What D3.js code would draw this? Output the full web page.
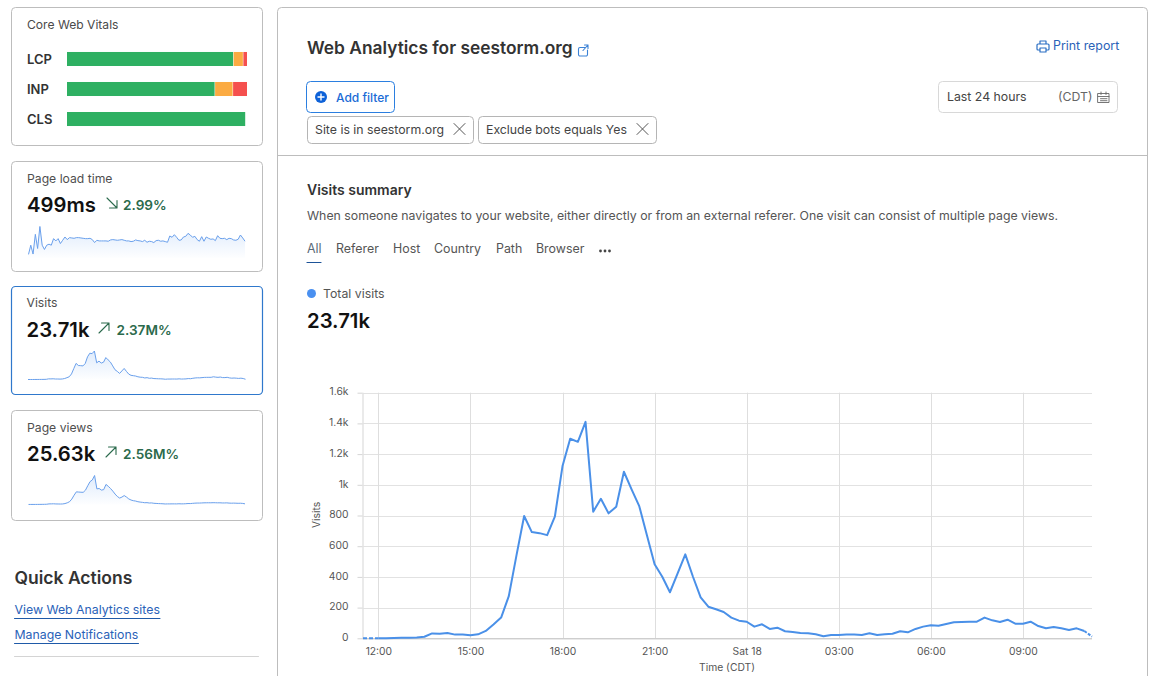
<!DOCTYPE html>
<html><head><meta charset="utf-8">
<script src="https://cdn.jsdelivr.net/npm/d3@7"></script>
<style>html,body{margin:0;padding:0;background:#fff;overflow:hidden}svg{display:block;font-family:Inter,"Noto Sans",sans-serif}</style>
</head><body><svg id="c" width="1160" height="676"></svg>
<script>
// ---- data ----
const visits=[0,0,0,1,2,3,4,6,10,32,30,35,24,24,20,26,48,90,135,275,540,797,692,685,672,792,1122,1300,1280,1410,825,909,814,857,1085,970,861,672,482,401,300,423,547,401,267,206,189,171,135,115,108,76,91,61,69,46,41,35,33,26,13,22,22,24,24,22,33,22,26,30,46,39,61,76,85,82,93,104,106,108,108,135,117,106,121,95,95,108,80,65,74,65,54,65,48,11];
const pageViews=[3,3,4,4,5,6,8,10,14,32,34,38,30,28,26,30,50,90,150,290,500,680,670,660,655,770,1010,1230,1320,1560,840,860,775,800,1080,980,860,720,560,430,345,400,480,400,300,240,205,185,150,130,115,95,100,80,85,65,58,50,45,38,28,32,32,34,34,32,40,34,36,42,52,50,62,72,78,78,84,90,92,94,92,98,95,90,92,84,84,88,76,70,74,70,64,68,58,36];
const loadTime=[97,343,106,634,255,845,343,229,343,370,343,519,458,519,387,475,563,493,546,537,528,546,546,537,528,519,519,528,493,414,475,458,458,458,458,449,484,493,484,475,484,493,475,458,458,440,449,484,466,458,440,475,422,449,440,414,466,475,449,458,440,422,590,555,625,555,475,484,563,581,660,616,555,581,493,449,572,449,563,528,502,511,466,598,528,519,528,493,528,519,484,475,502,616,537,449];
const lcp=[92.3,5.4,2.3], inp=[82,10,8], cls=[99,0,0];
const vitalNames=["LCP","INP","CLS"];
const yTicks=[0,200,400,600,800,1000,1200,1400,1600];
const xTickLabels=["12:00","15:00","18:00","21:00","Sat 18","03:00","06:00","09:00"];
const tabs=["All","Referer","Host","Country","Path","Browser"];
const startTime=Date.UTC(2024,4,17,11,30), stepMs=15*60*1000;

const svg=d3.select("#c");
const ink="#3a3a3a",blue="#1f62c4",green="#2b6a4c";
function text(s,x,y,size,opt={}){return svg.append("text").attr("x",x).attr("y",y).attr("font-size",size).attr("fill",opt.fill||ink).attr("font-weight",opt.w||400).attr("text-anchor",opt.a||"start").text(s);}
function box(x0,y0,x1,y1,stroke,r=4,sw=1){svg.append("rect").attr("x",x0).attr("y",y0).attr("width",x1-x0).attr("height",y1-y0).attr("rx",r).attr("fill","#fff").attr("stroke",stroke).attr("stroke-width",sw);}
function path(d,stroke,sw=1,fill="none"){return svg.append("path").attr("d",d).attr("stroke",stroke).attr("stroke-width",sw).attr("fill",fill).attr("stroke-linecap","round").attr("stroke-linejoin","round");}

// ---- left cards ----
box(11.5,7.5,262.5,145.5,"#bdbdbd");
box(11.5,161.5,262.5,271.5,"#bdbdbd");
box(11.5,286.5,262.5,394.5,"#2f78cc",4,1.2);
box(11.5,410.5,262.5,520.5,"#bdbdbd");
text("Core Web Vitals",27,29,12.1,{fill:"#4a4a4a"});
const vx=d3.scaleLinear().domain([0,100]).range([67,247]);
const vy=d3.scaleBand().domain(vitalNames).range([44,134]).paddingInner(0.533).paddingOuter(0.266);
const vColors=["#2eb062","#fbab42","#f5504e"];
[lcp,inp,cls].forEach((arr,k)=>{
  const nm=vitalNames[k];
  text(nm,27,vy(nm)+12,13,{w:600,fill:"#333"});
  let acc=0;
  arr.forEach((v,j)=>{ if(v>0) svg.append("rect").attr("x",vx(acc)+(j?0.5:0)).attr("y",vy(nm)).attr("width",vx(acc+v)-vx(acc)-(j?0.5:0)).attr("height",vy.bandwidth()).attr("fill",vColors[j]); acc+=v;});
});

function card(title,tx,ty,val,vy0,arrowX,up,pct,pctX){
  text(title,tx,ty,12.2,{fill:"#4f4f4f"});
  text(val,tx,vy0,20.3,{w:600,fill:"#111"});
  const ay=vy0-14, s=10;
  if(up) path(`M${arrowX} ${ay+s}L${arrowX+s} ${ay}M${arrowX+2.5} ${ay}H${arrowX+s}V${ay+7.5}`,green,1.1);
  else path(`M${arrowX} ${ay}L${arrowX+s} ${ay+s}M${arrowX+s} ${ay+2.5}V${ay+s}H${arrowX+2.5}`,green,1.1);
  text(pct,pctX,vy0-2,13.6,{w:600,fill:green});
}
card("Page load time",27,183,"499ms",212,107,false,"2.99%",123);
card("Visits",26.5,307,"23.71k",337,99,true,"2.37M%",116.5);
card("Page views",27,432,"25.63k",461,106,true,"2.56M%",123);

const defs=svg.append("defs");
const grad=defs.append("linearGradient").attr("id","sg").attr("x1",0).attr("x2",0).attr("y1",0).attr("y2",1);
grad.append("stop").attr("offset","0%").attr("stop-color","#5b9bf0").attr("stop-opacity",.2);
grad.append("stop").attr("offset","100%").attr("stop-color","#5b9bf0").attr("stop-opacity",.01);
function spark(data,x0,x1,yTop,yBase,maxV){
  const sx=d3.scaleLinear().domain([0,data.length-1]).range([x0,x1]);
  const sy=d3.scaleLinear().domain([0,maxV]).range([yBase,yTop]);
  svg.append("path").attr("d",d3.area().x((d,i)=>sx(i)).y0(yBase).y1(d=>sy(d))(data)).attr("fill","url(#sg)");
  svg.append("path").attr("d",d3.line().x((d,i)=>sx(i)).y(d=>sy(d))(data)).attr("fill","none").attr("stroke","#6aa0ec").attr("stroke-width",1);
}
spark(loadTime,28.5,245,225.5,258,871);
spark(visits,28,245.5,351,379.5,1410);
spark(pageViews,28.5,245,475.5,504.5,1560);

text("Quick Actions",14.5,584,17.5,{w:600,fill:"#333"});
text("View Web Analytics sites",14.5,614,12.3,{fill:"#2a62b8"});
text("Manage Notifications",14.5,639,12.3,{fill:"#2a62b8"});
path("M14.5 618.5H160",  "#1f5aa8",1);
path("M14.5 643.5H138.5","#1f5aa8",1);
path("M14.5 656.5H258.5","#d4d4d4",1);

// ---- main panel ----
svg.append("rect").attr("x",277.5).attr("y",7.5).attr("width",870).attr("height",700).attr("rx",4).attr("fill","#fff").attr("stroke","#bdbdbd");
path("M277.5 155.5H1147.5","#bdbdbd",1);
text("Web Analytics for seestorm.org",307,54,17.35,{w:600,fill:"#333"});
path("M585 47.5H580a1.5 1.5 0 0 0-1.5 1.5V54.5a1.5 1.5 0 0 0 1.5 1.5H586a1.5 1.5 0 0 0 1.5-1.5V50M583 50.5L588 45M584.5 45H588V48.5","#3b82d6",1.1);
// printer
path("M1040 44V41H1046V44M1040 50H1038a1 1 0 0 1-1-1V45a1 1 0 0 1 1-1H1048a1 1 0 0 1 1 1V49a1 1 0 0 1-1 1H1046M1040 48H1046V52H1040Z","#2b6fc4",1.2);
text("Print report",1053,50,12.4,{fill:"#2a62b8"});

box(306.5,81.5,394.5,112.5,"#2b7fe0");
svg.append("circle").attr("cx",321).attr("cy",97).attr("r",6).attr("fill","#0e62d8");
path("M318 97H324M321 94V100","#fff",1.4);
text("Add filter",336,102,12,{w:500,fill:"#1a6bd6"});
box(307.5,116.5,473.5,143.5,"#b5b5b5");
text("Site is in seestorm.org",315,134,12.3,{fill:"#444"});
path("M454 123.5L465 134.5M465 123.5L454 134.5","#555",1);
box(478.5,116.5,656.5,143.5,"#b5b5b5");
text("Exclude bots equals Yes",486,134,12.3,{fill:"#444"});
path("M637 123.5L648 134.5M648 123.5L637 134.5","#555",1);
box(938.5,81.5,1117.5,112.5,"#d8d8d8");
text("Last 24 hours",947,101,12.3,{fill:"#444"});
text("(CDT)",1058,101,12.3,{fill:"#666"});
path("M1098 93.5H1109V102.5H1098ZM1098 96.5H1109M1101 92V94.5M1106 92V94.5M1100.5 98.7H1107M1100.5 100.7H1107","#666",.9);

text("Visits summary",307,195,14,{w:600,fill:"#333"});
text("When someone navigates to your website, either directly or from an external referer. One visit can consist of multiple page views.",307,220,12.3,{fill:"#555"});
const tabX=[307,336,393,434,496,536];
tabs.forEach((t,i)=>text(t,tabX[i],253,12.4,{fill:i?"#555":"#5a6a78"}));
[600.5,605,609.5].forEach(x=>svg.append("circle").attr("cx",x).attr("cy",251).attr("r",1.4).attr("fill","#444"));
path("M307 262.5H321","#1d5398",1.2);
svg.append("circle").attr("cx",311.5).attr("cy",293.5).attr("r",4.5).attr("fill","#4a90f0");
text("Total visits",323,298,12.3,{fill:"#555"});
text("23.71k",307,328,20.3,{w:600,fill:"#111"});

// ---- main chart ----
const x=d3.scaleUtc().domain([startTime,startTime+95*stepMs]).range([363,1092]);
const y=d3.scaleLinear().domain([0,1600]).range([638.3,392.7]);
const xTickVals=xTickLabels.map((_,i)=>new Date(Date.UTC(2024,4,17,12)+i*3*3600*1000));
const fmtY=d=>d>=1000?(d/1000)+"k":String(d);
const g=svg.append("g");
const yAxis=d3.axisLeft(y).tickValues(yTicks).tickFormat(fmtY).tickSize(5).tickPadding(9);
const xAxis=d3.axisBottom(x).tickValues(xTickVals).tickFormat((d,i)=>xTickLabels[i]).tickSize(0).tickPadding(9);
const gy=g.append("g").attr("transform","translate(362.5,0)").call(yAxis);
gy.select(".domain").attr("stroke","#d5d5d5").attr("d","M0.5 392.7V638.3");
gy.selectAll("line").attr("stroke","#d5d5d5");
gy.selectAll("text").attr("font-size",10.3).attr("fill","#555").attr("font-family","Inter,sans-serif").attr("transform","translate(0,-1)");
const gx=g.append("g").attr("transform","translate(0,638.3)").call(xAxis);
gx.select(".domain").attr("stroke","#b9b9b9").attr("d","M362.5 0.5H1092");
gx.selectAll("text").attr("font-size",10.3).attr("fill","#555").attr("font-family","Inter,sans-serif");
g.append("g").selectAll("line").data(yTicks.slice(1)).join("line").attr("x1",362.5).attr("x2",1092).attr("y1",d=>Math.round(y(d))+.5).attr("y2",d=>Math.round(y(d))+.5).attr("stroke","#e2e2e2");
g.append("g").selectAll("line").data(xTickVals).join("line").attr("y1",392.7).attr("y2",638).attr("x1",d=>Math.round(x(d))+.5).attr("x2",d=>Math.round(x(d))+.5).attr("stroke","#dedede");
text("Visits",0,0,10.3,{fill:"#555",a:"middle"}).attr("transform","translate(319.5,515) rotate(-90)");
text("Time (CDT)",727,670.5,10.3,{fill:"#555",a:"middle"});

const pts=visits.map((v,i)=>[startTime+i*stepMs,v]);
const ln=d3.line().x(d=>x(d[0])).y(d=>y(d[1]));
const lc="#4a90e8";
svg.append("path").attr("d",ln(pts.slice(0,3))).attr("fill","none").attr("stroke",lc).attr("stroke-width",2).attr("stroke-dasharray","4 2");
svg.append("path").attr("d",ln(pts.slice(2,95))).attr("fill","none").attr("stroke",lc).attr("stroke-width",2).attr("stroke-linejoin","round");
svg.append("path").attr("d",ln(pts.slice(94))).attr("fill","none").attr("stroke",lc).attr("stroke-width",2).attr("stroke-dasharray","3 1.5");
</script></body></html>
